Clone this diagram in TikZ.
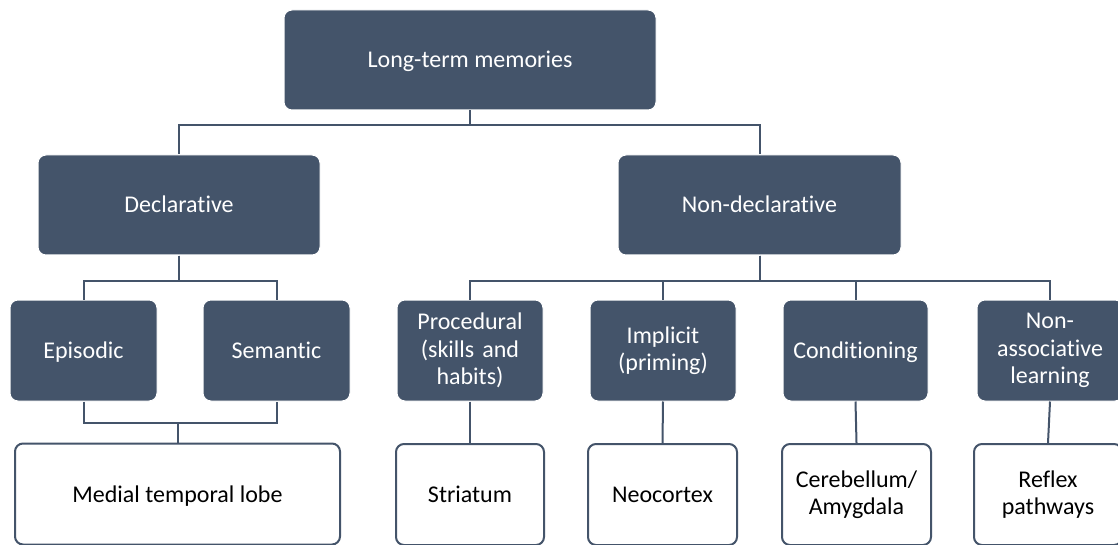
\documentclass[tikz,border=0pt]{standalone}
\usepackage{fontspec}
\setmainfont{Carlito}[Ligatures=NoCommon]
\definecolor{navy}{HTML}{44546A}
\tikzset{
  dbox/.style={rectangle, rounded corners=8pt, fill=navy, draw=white, line width=1pt,
    text=white, align=center, minimum height=100pt, inner sep=2pt,
    font=\fontsize{24}{27.5}\selectfont},
  wbox/.style={rectangle, rounded corners=8pt, fill=white, draw=navy, line width=2pt,
    text=black, align=center, minimum height=101pt, inner sep=2pt,
    font=\fontsize{24}{27.5}\selectfont},
  one/.style={text height=20pt, text depth=4pt},
  link/.style={draw=navy, line width=2pt}
}
\begin{document}
\begin{tikzpicture}[x=1pt,y=-1pt]
\clip (0,0) rectangle (1118,545);
\fill[white] (0,0) rectangle (1118,545);
% level 0
\node[dbox, one, minimum width=372pt] (ltm) at (470,60) {Long-term memories};
% level 1
\node[dbox, one, minimum width=282pt] (decl) at (179,205) {Declarative};
\node[dbox, one, minimum width=283pt] (nondecl) at (759.5,205) {Non-declarative};
% level 2
\node[dbox, one, minimum width=147pt, minimum height=101pt] (epi) at (83.5,350.5) {Episodic};
\node[dbox, one, minimum width=147pt, minimum height=101pt] (sem) at (276.5,350.5) {Semantic};
\node[dbox, minimum width=146pt, minimum height=101pt, text width=140pt] (proc) at (470,350.5) {Procedural\\(skills and\\habits)};
\node[dbox, minimum width=146pt, minimum height=101pt, text width=140pt] (impl) at (663,350.5) {Implicit\\(priming)};
\node[dbox, one, minimum width=145pt, minimum height=101pt] (cond) at (855.5,350.5) {Conditioning};
\node[dbox, minimum width=146pt, minimum height=101pt, text width=140pt] (nona) at (1050,350.5) {Non-\\associative\\learning};
% level 3
\node[wbox, one, minimum width=325pt] (mtl) at (177.5,494) {Medial temporal lobe};
\node[wbox, one, minimum width=148pt] (str) at (470,494.5) {Striatum};
\node[wbox, one, minimum width=149pt] (neo) at (662.5,494.5) {Neocortex};
\node[wbox, minimum width=149pt, text width=140pt] (cer) at (856.5,494.5) {Cerebellum/\\Amygdala};
\node[wbox, minimum width=148pt, text width=140pt] (ref) at (1048,494.5) {Reflex\\pathways};
% connectors
\draw[link] (ltm.south) -- ++(0,15) -| (decl.north);
\draw[link] (ltm.south) -- ++(0,15) -| (nondecl.north);
\draw[link] (decl.south) -- ++(0,25) -| (epi.north);
\draw[link] (decl.south) -- ++(0,25) -| (sem.north);
\draw[link] (nondecl.south) -- ++(0,25) -| (proc.north);
\draw[link] (nondecl.south) -- ++(0,25) -| (impl.north);
\draw[link] (nondecl.south) -- ++(0,25) -| (cond.north);
\draw[link] (nondecl.south) -- ++(0,25) -| (nona.north);
\coordinate (join) at (177.5,423);
\draw[link] (epi.south) |- (join) -| (sem.south);
\draw[link] (mtl.north) -- (join);
\draw[link] (proc.south) -- (str.north);
\draw[link] (impl.south) -- (neo.north);
\draw[link] (cond.south) -- (cer.north);
\draw[link] (nona.south) -- (ref.north);
\end{tikzpicture}
\end{document}
